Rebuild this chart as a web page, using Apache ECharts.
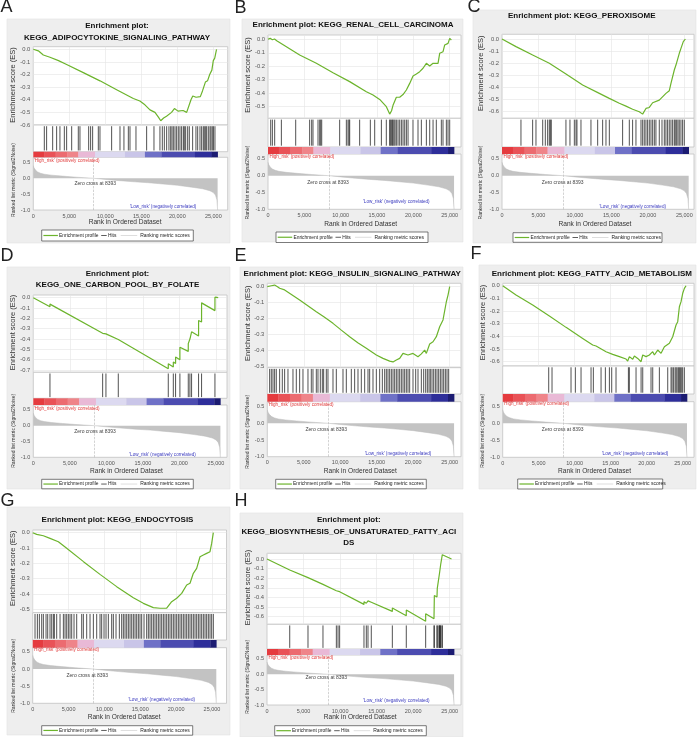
<!DOCTYPE html>
<html><head><meta charset="utf-8">
<script src="https://cdn.jsdelivr.net/npm/echarts@6/dist/echarts.min.js"></script>
<style>html,body{margin:0;padding:0;background:#fff}#c{width:699px;height:737px}</style>
</head><body><div id="c"></div>
<script>
// ---------------- DATA ----------------
const panelLetters = ['A','B','C','D','E','F','G','H'];
const titleA = ['Enrichment plot:', 'KEGG_ADIPOCYTOKINE_SIGNALING_PATHWAY'];
const titleB = ['Enrichment plot: KEGG_RENAL_CELL_CARCINOMA'];
const titleC = ['Enrichment plot: KEGG_PEROXISOME'];
const titleD = ['Enrichment plot:', 'KEGG_ONE_CARBON_POOL_BY_FOLATE'];
const titleE = ['Enrichment plot: KEGG_INSULIN_SIGNALING_PATHWAY'];
const titleF = ['Enrichment plot: KEGG_FATTY_ACID_METABOLISM'];
const titleG = ['Enrichment plot: KEGG_ENDOCYTOSIS'];
const titleH = ['Enrichment plot:', 'KEGG_BIOSYNTHESIS_OF_UNSATURATED_FATTY_ACI', 'DS'];

// x ticks (rank) and y ticks
const xTicks = [0, 5000, 10000, 15000, 20000, 25000];
const rankTicks = [-1.0, -0.5, 0.0, 0.5];
const esTicksA = [0, -0.1, -0.2, -0.3, -0.4, -0.5, -0.6];
const esTicksB = [0, -0.1, -0.2, -0.3, -0.4, -0.5];
const esTicksC = [0, -0.1, -0.2, -0.3, -0.4, -0.5, -0.6];
const esTicksD = [0, -0.1, -0.2, -0.3, -0.4, -0.5, -0.6, -0.7];
const esTicksE = [0, -0.1, -0.2, -0.3, -0.4, -0.5];
const esTicksF = [0, -0.1, -0.2, -0.3, -0.4, -0.5, -0.6];
const esTicksG = [0, -0.1, -0.2, -0.3, -0.4, -0.5];
const esTicksH = [0, -0.1, -0.2, -0.3, -0.4, -0.5, -0.6];

// Ranked list metric (shared dataset)
const rankX = [0, 100, 300, 600, 1000, 1500, 2500, 4000, 6000, 8393, 10000, 12000, 14000, 16000, 18000, 20000, 22000, 23500, 24500, 25000, 25300, 25500, 25600];
const rankMetric = [0.40, 0.33, 0.26, 0.2, 0.16, 0.13, 0.1, 0.07, 0.035, 0, -0.035, -0.075, -0.11, -0.14, -0.18, -0.22, -0.28, -0.33, -0.39, -0.45, -0.53, -0.68, -1.0];
const zeroCross = 8393;
// colour bar bins (rank edges)
const barEdges = [0, 1500, 3100, 4700, 6250, 8570, 12730, 15500, 17800, 22450, 24770, 25600];

// Enrichment score curves [rank, ES]
const esA = [[0,0],[700,-0.012],[1389,-0.045],[2315,-0.063],[3500,-0.09],[4630,-0.12],[6945,-0.185],[9260,-0.25],[11575,-0.32],[13890,-0.39],[14800,-0.41],[15500,-0.44],[16204,-0.48],[16900,-0.5],[17400,-0.54],[17700,-0.566],[18100,-0.545],[18500,-0.53],[19200,-0.5],[19600,-0.47],[20100,-0.49],[20800,-0.485],[21300,-0.5],[21500,-0.49],[21900,-0.4],[22150,-0.37],[22600,-0.38],[23200,-0.375],[23500,-0.33],[23900,-0.26],[24200,-0.25],[24500,-0.2],[24800,-0.165],[25000,-0.09],[25200,-0.07],[25450,0]];
const esB = [[0,0],[300,0.007],[600,-0.003],[900,0.002],[1200,-0.01],[4358,-0.116],[6651,-0.178],[8945,-0.248],[11238,-0.314],[13532,-0.389],[14450,-0.413],[15367,-0.446],[16284,-0.5],[16743,-0.555],[17000,-0.53],[17201,-0.49],[17660,-0.43],[18119,-0.43],[18578,-0.41],[19036,-0.376],[19495,-0.327],[19954,-0.272],[20413,-0.257],[20872,-0.24],[21330,-0.215],[21789,-0.178],[22248,-0.198],[22706,-0.178],[23393,-0.178],[23623,-0.104],[24082,-0.092],[24312,-0.042],[24771,-0.03],[25000,0.007],[25230,-0.005]];
const esC = [[0,0],[1919,-0.063],[4204,-0.132],[6489,-0.2],[8774,-0.289],[11059,-0.38],[13344,-0.449],[14715,-0.49],[16086,-0.53],[17000,-0.554],[17914,-0.58],[18828,-0.6],[19286,-0.62],[19743,-0.573],[20200,-0.565],[20657,-0.526],[21571,-0.504],[22485,-0.449],[22943,-0.427],[23172,-0.366],[23629,-0.256],[23857,-0.215],[24314,-0.118],[24543,-0.077],[24862,-0.022],[25150,0]];
const esD = [[0,0],[2280,-0.088],[2281,-0.062],[9490,-0.345],[9491,-0.332],[9940,-0.35],[9941,-0.338],[11630,-0.405],[11631,-0.392],[18470,-0.688],[18471,-0.64],[19160,-0.672],[19161,-0.622],[19470,-0.638],[19471,-0.575],[20060,-0.6],[20061,-0.48],[21205,-0.52],[21206,-0.445],[21430,-0.455],[21431,-0.4],[21660,-0.41],[21661,-0.33],[22615,-0.37],[22616,-0.22],[23025,-0.235],[23026,-0.05],[24855,-0.125],[24856,0.005],[25300,0]];
const esE = [[0,0],[548,0.006],[1005,0.01],[1400,0.0],[1691,-0.01],[2376,-0.02],[3200,-0.045],[4433,-0.083],[5600,-0.12],[6718,-0.156],[7800,-0.19],[9003,-0.229],[10100,-0.27],[11288,-0.313],[12400,-0.35],[13573,-0.385],[14944,-0.427],[15858,-0.448],[16772,-0.465],[17229,-0.47],[17686,-0.458],[18143,-0.448],[18600,-0.417],[19285,-0.427],[19971,-0.417],[20656,-0.4375],[21113,-0.42],[21570,-0.396],[21799,-0.417],[22256,-0.358],[22713,-0.344],[23170,-0.3125],[23627,-0.25],[24084,-0.208],[24541,-0.094],[24769,-0.052],[24998,0]];
const esF = [[0,0],[1852,-0.074],[4167,-0.153],[6482,-0.239],[8797,-0.329],[11112,-0.416],[12502,-0.468],[12965,-0.476],[14354,-0.521],[15280,-0.542],[16206,-0.56],[17132,-0.579],[17363,-0.595],[17594,-0.56],[18057,-0.58],[18289,-0.555],[18752,-0.574],[19215,-0.6],[19446,-0.547],[19909,-0.56],[20372,-0.547],[20835,-0.521],[21067,-0.547],[21530,-0.508],[21993,-0.534],[22456,-0.482],[22687,-0.495],[23150,-0.455],[23382,-0.468],[23613,-0.403],[24076,-0.31],[24308,-0.284],[24539,-0.166],[24771,-0.126],[25002,-0.06],[25234,-0.021],[25465,0]];
const esG = [[0,0],[558,-0.011],[1487,-0.02],[2416,-0.037],[3578,-0.059],[4740,-0.102],[7081,-0.189],[9385,-0.272],[11711,-0.352],[14034,-0.424],[15428,-0.461],[16822,-0.489],[17751,-0.493],[18680,-0.493],[18913,-0.483],[19378,-0.45],[20075,-0.428],[20772,-0.396],[21469,-0.341],[21934,-0.33],[22398,-0.265],[22863,-0.233],[23328,-0.157],[23792,-0.146],[24257,-0.135],[24722,-0.124],[24954,-0.07],[25186,0]];
const esH = [[0,0],[3110,-0.115],[3111,-0.1],[5610,-0.194],[5611,-0.18],[7660,-0.264],[7661,-0.25],[9490,-0.33],[9491,-0.32],[9720,-0.335],[9721,-0.325],[9940,-0.34],[9941,-0.33],[13270,-0.472],[13271,-0.445],[13590,-0.46],[13591,-0.44],[13820,-0.455],[13821,-0.435],[14270,-0.45],[14271,-0.43],[17150,-0.545],[17151,-0.51],[19060,-0.59],[19061,-0.53],[21710,-0.648],[21711,-0.57],[22850,-0.622],[22900,-0.38],[23260,-0.395],[23300,-0.305],[23530,-0.32],[23620,-0.14],[23720,-0.145],[23760,-0.06],[23940,-0.065],[23990,0.045],[25250,0]];

// Hit positions (rank)
const hitsA = [1530,1850,2690,3240,3700,4310,4630,5330,6250,6480,7690,7960,8240,9030,9260,10880,12040,12590,13200,13430,14260,15740,16760,17590,17920,18200,18520,18840,19080,19260,19450,19680,19910,20140,20370,20600,20840,20970,21160,21440,21670,22130,22590,22830,23150,23380,23610,23750,23940,24080,24310,24540,24680,24860,25020,25230];
const hitsB = [370,600,920,1840,3810,5730,6010,6190,6880,7110,7250,7390,9860,10780,11010,11150,11240,12610,14080,14680,15600,16280,16740,16830,16970,17110,17200,17340,17480,17660,17890,18120,18350,18580,18810,19040,19270,19950,20640,21100,21790,22250,22710,23160,23850,24080,24540,24770,25000];
const hitsC = [2600,4200,4660,5580,5940,6260,6490,6630,6760,8770,9320,9920,10150,10280,10830,12200,13120,13800,14260,14720,16540,17460,17910,18370,19060,19290,19510,19740,19970,20200,20430,20660,20890,21110,21570,21940,22260,22480,22710,22940,23170,23400,23630,23760,23950,24130,24310,24540,24770,25000];
const hitsD = [2280,9490,9940,11630,18470,19160,19470,20060,21205,21430,21660,22615,23025,24855];
const hitsE = [320,548,777,1005,1234,1691,2057,2376,2833,3519,3976,4433,4890,5575,6032,6261,6718,6946,7266,7541,7723,8089,8317,9003,9460,10374,10831,11516,11973,12430,12887,13344,13801,14030,14487,14944,15401,15767,16086,16315,16543,16772,17000,17229,17457,17686,17914,18143,18371,18600,18828,19057,19285,19514,19971,20337,20656,21113,21433,21707,21936,22165,22347,22576,22804,23033,23261,23490,23718,23947,24175,24404,24632,24861];
const hitsF = [6390,6850,9490,10090,10880,12270,12590,13660,14260,14820,15140,15740,17460,17590,18520,19220,19450,20600,20840,21760,22920,23380,23520,23710,23940,24080,24220,24400,24540,24680,24860,25000,25230];
const hitsG = [325,651,929,1255,1487,1859,2091,2416,2649,2881,3021,3346,3811,4275,4508,4740,4972,5205,5437,5762,6134,6831,7063,7528,7993,8458,8922,9387,9619,9945,10223,10549,11013,11246,11618,12082,12407,12640,12872,13105,13337,13569,13802,14034,14266,14499,14731,14963,15196,15521,15893,16125,16357,16590,16822,17054,17287,17519,17751,17984,18216,18448,18681,18913,19146,19378,19610,19843,20075,20307,20540,20772,21004,21237,21469,21701,21934,22166,22398,22631,22863,23096,23328,23560,23793,24025,24257,24490,24722,24954,25187];
const hitsH = [3110,5610,7660,9490,9720,9940,13270,13590,13820,14270,17150,19060,21710,22850,22900,23260,23300,23530,23580,23620,23720,23760,23940,23990];

// ---------------- STYLE / LAYOUT ----------------
const FONT = '"Liberation Sans", Arial, Helvetica, sans-serif';
const GREEN = '#6cb42c';
const barColors = ['#e53b3f','#e95257','#ec6b70','#ef8489','#e9b9d6','#dcd9f0','#c9c5e8','#6f71c7','#4c4cb0','#2e2e9a','#1c1c72'];
const layouts = [
 {lab:[0.5,7.5], box:[7,19,223,224], tx:117, ty:[26,37.3], xl:33.3, x25:213.3, xr:227.7, esTop:46.7, esY0:49.3, esRef:-0.6, esRefY:125, esBot:125, cbTop:151.7, cbBot:157.3, rkY0:178.3, rkYm1:210, xTitleY:222, lg:[41.7,230,151.6,11], hiY:160.5, lo:[163,207], zc:[95.3,183.3], esT:[13.3,85], rkT:[13.3,180]},
 {lab:[234.5,8], box:[242,19,221,223], tx:353, ty:[25], xl:268, x25:449.7, xr:461, esTop:35, esY0:39.3, esRef:-0.5, esRefY:106.7, esBot:118.3, cbTop:147, cbBot:154, rkY0:175.7, rkYm1:209.3, xTitleY:224, lg:[276,232,152,10.5], hiY:156.8, lo:[396.3,201.7], zc:[328,182.7], esT:[248,75], rkT:[248,182.5]},
 {lab:[467.5,7], box:[473,10,223,233], tx:581.8, ty:[16], xl:502, x25:684.3, xr:694, esTop:34.3, esY0:39, esRef:-0.6, esRefY:111.7, esBot:118.3, cbTop:147, cbBot:154, rkY0:175.7, rkYm1:209.3, xTitleY:224, lg:[513,232.7,149,9.6], hiY:157, lo:[632.7,206.7], zc:[562.7,182.7], esT:[481,73.3], rkT:[481,182.5]},
 {lab:[0.5,256.5], box:[7,267,223,222], tx:117.5, ty:[273.3,284.3], xl:33.3, x25:216, xr:227, esTop:295, esY0:297.7, esRef:-0.7, esRefY:370, esBot:372.3, cbTop:398.3, cbBot:405, rkY0:425.7, rkYm1:457.3, xTitleY:470.7, lg:[41.7,479.3,151.6,9.5], hiY:408.3, lo:[162.5,454.3], zc:[95,431.7], esT:[13.3,332.5], rkT:[13.3,430.8]},
 {lab:[234.5,256], box:[240,267,223,222], tx:352.2, ty:[273.3], xl:267.3, x25:449.7, xr:461, esTop:283.3, esY0:286.7, esRef:-0.5, esRefY:366.7, esBot:367.7, cbTop:394, cbBot:401.7, rkY0:423.3, rkYm1:456.7, xTitleY:470.7, lg:[275.7,479.3,150.6,9.5], hiY:404.3, lo:[398,454], zc:[326.3,430], esT:[248,323.3], rkT:[248,431.7]},
 {lab:[470.5,254.5], box:[479,265,217,224], tx:591.8, ty:[273.3], xl:502.7, x25:682.7, xr:694, esTop:283.3, esY0:285.7, esRef:-0.6, esRefY:361.7, esBot:366, cbTop:394, cbBot:401.7, rkY0:423.3, rkYm1:457.3, xTitleY:470.7, lg:[517.7,479,145,10], hiY:404, lo:[635,453.3], zc:[562.7,430], esT:[482.7,322.5], rkT:[482.7,430.8]},
 {lab:[0.5,501.5], box:[7,507,223,228], tx:117.5, ty:[519.3], xl:32.7, x25:212, xr:226.5, esTop:530, esY0:532.7, esRef:-0.5, esRefY:609.3, esBot:612.7, cbTop:640, cbBot:647.7, rkY0:669, rkYm1:703.3, xTitleY:716.7, lg:[41.7,725.7,151,9.5], hiY:649.3, lo:[161.7,700], zc:[87.3,676], esT:[13.3,568.3], rkT:[13.3,675.8]},
 {lab:[234.5,501.5], box:[240,513,223,224], tx:348.8, ty:[519.3,531.7,542.7], xl:267, x25:449.7, xr:461, esTop:553.3, esY0:559, esRef:-0.6, esRefY:616.7, esBot:624.3, cbTop:649, cbBot:655, rkY0:674.3, rkYm1:705, xTitleY:716.7, lg:[274.7,725.7,151.6,10], hiY:657.7, lo:[396.3,701], zc:[326.3,677.7], esT:[248,587.5], rkT:[248,676.7]}
];
const panels = [
 {title:titleA, es:esA, hits:hitsA, ticks:esTicksA},
 {title:titleB, es:esB, hits:hitsB, ticks:esTicksB},
 {title:titleC, es:esC, hits:hitsC, ticks:esTicksC},
 {title:titleD, es:esD, hits:hitsD, ticks:esTicksD},
 {title:titleE, es:esE, hits:hitsE, ticks:esTicksE},
 {title:titleF, es:esF, hits:hitsF, ticks:esTicksF},
 {title:titleG, es:esG, hits:hitsG, ticks:esTicksG},
 {title:titleH, es:esH, hits:hitsH, ticks:esTicksH}
];

const fmtK = v => String(Math.round(v)).replace(/\B(?=(\d{3})+(?!\d))/g, ',');
const rankData = rankX.map((x, k) => [x, rankMetric[k]]);
const barData = barEdges.slice(0, -1).map((e, k) => [e, barEdges[k + 1]]);

const grid = [], xAxis = [], yAxis = [], series = [], graphic = [];
const hidden = {axisLine:{show:false}, axisTick:{show:false}, axisLabel:{show:false}, splitLine:{show:false}};
const gridStyle = {show:true, backgroundColor:'#fff', borderColor:'#c2c2c2', borderWidth:0.8};

panels.forEach((p, i) => {
  const L = layouts[i];
  const W = L.xr - L.xl;
  const xmax = (L.xr - L.xl) / (L.x25 - L.xl) * 25000;
  const esPer = (L.esRefY - L.esY0) / (-L.esRef);
  const esMax = (L.esY0 - L.esTop) / esPer + 1e-6;
  const esMin = -(L.esBot - L.esY0) / esPer - 1e-6;
  const rkPer = L.rkYm1 - L.rkY0;
  const rkMax = (L.rkY0 - L.cbBot) / rkPer;
  const g = i * 4;
  grid.push(Object.assign({left:L.xl, top:L.esTop, width:W, height:L.esBot - L.esTop}, gridStyle));
  grid.push(Object.assign({left:L.xl, top:L.esBot, width:W, height:L.cbTop - L.esBot}, gridStyle));
  grid.push({left:L.xl, top:L.cbTop, width:W, height:L.cbBot - L.cbTop, show:false});
  grid.push(Object.assign({left:L.xl, top:L.cbBot, width:W, height:L.rkYm1 - L.cbBot}, gridStyle));

  // ES axes
  xAxis.push({type:'value', gridIndex:g, min:0, max:xmax, interval:5000,
    axisLine:{show:false}, axisLabel:{show:false},
    axisTick:{show:false, customValues:xTicks},
    splitLine:{show:true, lineStyle:{color:'#e4e4e4', width:0.6}}});
  yAxis.push({type:'value', gridIndex:g, min:esMin, max:esMax,
    axisLine:{show:false},
    axisTick:{show:false, customValues:p.ticks},
    axisLabel:{show:true, customValues:p.ticks, fontSize:5.8, color:'#555', margin:3, fontFamily:FONT,
      formatter: v => (Math.abs(v) < 1e-9 ? 0 : v).toFixed(1)},
    splitLine:{show:true, lineStyle:{color:'#e4e4e4', width:0.6}}});
  // hits axes
  xAxis.push(Object.assign({type:'value', gridIndex:g + 1, min:0, max:xmax}, hidden));
  yAxis.push(Object.assign({type:'value', gridIndex:g + 1, min:-0.05, max:1.05}, hidden));
  // colour bar axes
  xAxis.push(Object.assign({type:'value', gridIndex:g + 2, min:0, max:xmax}, hidden));
  yAxis.push(Object.assign({type:'value', gridIndex:g + 2, min:0, max:1}, hidden));
  // rank metric axes
  xAxis.push({type:'value', gridIndex:g + 3, min:0, max:xmax,
    axisLine:{show:false}, splitLine:{show:false},
    axisTick:{show:false, customValues:xTicks},
    axisLabel:{show:true, customValues:xTicks, fontSize:5.5, color:'#555', margin:3, fontFamily:FONT, formatter:fmtK}});
  yAxis.push({type:'value', gridIndex:g + 3, min:-1, max:rkMax,
    axisLine:{show:false}, splitLine:{show:false},
    axisTick:{show:false, customValues:rankTicks},
    axisLabel:{show:true, customValues:rankTicks, fontSize:5.5, color:'#555', margin:3, fontFamily:FONT,
      formatter: v => (Math.abs(v) < 1e-9 ? 0 : v).toFixed(1)}});

  series.push({type:'line', xAxisIndex:g, yAxisIndex:g, data:p.es, showSymbol:false, silent:true,
    lineStyle:{color:GREEN, width:1.2}, z:5});
  series.push({type:'custom', xAxisIndex:g + 1, yAxisIndex:g + 1, silent:true,
    data:p.hits.map(v => [v, 0]), encode:{x:0, y:1},
    renderItem:(params, api) => {
      const a = api.coord([api.value(0), 0]);
      const b = api.coord([api.value(0), 1]);
      return {type:'line', shape:{x1:a[0], y1:a[1], x2:b[0], y2:b[1]}, style:{stroke:'#262626', lineWidth:0.8}};
    }});
  series.push({type:'custom', xAxisIndex:g + 2, yAxisIndex:g + 2, silent:true,
    data:barData, encode:{x:[0, 1]},
    renderItem:(params, api) => {
      const a = api.coord([api.value(0), 1]);
      const b = api.coord([api.value(1), 0]);
      return {type:'rect', shape:{x:a[0], y:a[1], width:b[0] - a[0] + 0.3, height:b[1] - a[1]}, style:{fill:barColors[params.dataIndex]}};
    }});
  series.push({type:'line', xAxisIndex:g + 3, yAxisIndex:g + 3, data:rankData, showSymbol:false, silent:true,
    lineStyle:{color:'#bdbdbd', width:0.5}, areaStyle:{color:'#c3c3c3', opacity:1},
    markLine:{symbol:'none', silent:true, animation:false, label:{show:false},
      lineStyle:{type:'dashed', color:'#b5b5b5', width:0.6}, data:[{xAxis:zeroCross}]}});

  // ---- graphics ----
  graphic.push({type:'rect', z:-100, shape:{x:L.box[0], y:L.box[1], width:L.box[2], height:L.box[3]},
    style:{fill:'#eeeeee', stroke:'#e2e2e2', lineWidth:0.6}});
  graphic.push({type:'text', z:100, x:L.lab[0], y:L.lab[1],
    style:{text:panelLetters[i], fontSize:18, fontFamily:FONT, fill:'#222', align:'left', verticalAlign:'middle'}});
  p.title.forEach((t, k) => graphic.push({type:'text', z:100, x:L.tx, y:L.ty[k],
    style:{text:t, fontSize:8, fontWeight:'bold', fontFamily:FONT, fill:'#111', align:'center', verticalAlign:'middle'}}));
  graphic.push({type:'text', z:100, x:L.esT[0], y:L.esT[1], rotation:Math.PI / 2,
    style:{text:'Enrichment score (ES)', fontSize:7.5, fontFamily:FONT, fill:'#333', align:'center', verticalAlign:'middle'}});
  graphic.push({type:'text', z:100, x:L.rkT[0], y:L.rkT[1], rotation:Math.PI / 2,
    style:{text:'Ranked list metric (Signal2Noise)', fontSize:5, fontFamily:FONT, fill:'#333', align:'center', verticalAlign:'middle'}});
  graphic.push({type:'text', z:100, x:L.xl + 0.5, y:L.hiY,
    style:{text:"'High_risk' (positively correlated)", fontSize:4.6, fontFamily:FONT, fill:'#e03a3a', align:'left', verticalAlign:'middle'}});
  graphic.push({type:'text', z:100, x:L.lo[0], y:L.lo[1],
    style:{text:"'Low_risk' (negatively correlated)", fontSize:4.6, fontFamily:FONT, fill:'#3b3bbf', align:'center', verticalAlign:'middle'}});
  graphic.push({type:'text', z:100, x:L.zc[0], y:L.zc[1],
    style:{text:'Zero cross at ' + zeroCross, fontSize:5, fontFamily:FONT, fill:'#444', align:'center', verticalAlign:'middle'}});
  graphic.push({type:'text', z:100, x:L.xl + (L.x25 - L.xl) * 0.51, y:L.xTitleY,
    style:{text:'Rank in Ordered Dataset', fontSize:6.6, fontFamily:FONT, fill:'#333', align:'center', verticalAlign:'middle'}});
  // legend
  const [lx, ly, lw, lh] = L.lg;
  const cy = ly + lh / 2;
  graphic.push({type:'rect', z:90, shape:{x:lx, y:ly, width:lw, height:lh}, style:{fill:'#fff', stroke:'#444', lineWidth:0.7}});
  graphic.push({type:'line', z:100, shape:{x1:lx + 1.7, y1:cy, x2:lx + 16.2, y2:cy}, style:{stroke:GREEN, lineWidth:1.2}});
  graphic.push({type:'text', z:100, x:lx + 17.4, y:cy, style:{text:'Enrichment profile', fontSize:4.9, fontFamily:FONT, fill:'#222', align:'left', verticalAlign:'middle'}});
  graphic.push({type:'line', z:100, shape:{x1:lx + 59.5, y1:cy, x2:lx + 65, y2:cy}, style:{stroke:'#333', lineWidth:0.8}});
  graphic.push({type:'text', z:100, x:lx + 66.3, y:cy, style:{text:'Hits', fontSize:4.9, fontFamily:FONT, fill:'#222', align:'left', verticalAlign:'middle'}});
  graphic.push({type:'line', z:100, shape:{x1:lx + 79, y1:cy, x2:lx + 95.5, y2:cy}, style:{stroke:'#d4d4d4', lineWidth:0.8}});
  graphic.push({type:'text', z:100, x:lx + 98.5, y:cy, style:{text:'Ranking metric scores', fontSize:5, fontFamily:FONT, fill:'#222', align:'left', verticalAlign:'middle'}});
});

const chart = echarts.init(document.getElementById('c'), null, {renderer:'canvas'});
chart.setOption({animation:false, backgroundColor:'#fff', grid, xAxis, yAxis, series, graphic:{elements:graphic}});
</script>
</body></html>
